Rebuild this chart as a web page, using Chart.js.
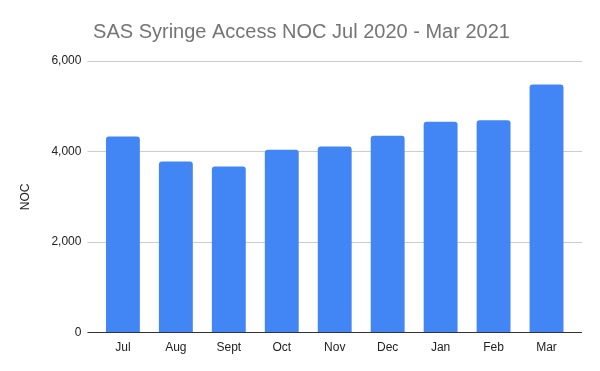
<!DOCTYPE html>
<html>
<head>
<meta charset="utf-8">
<script src="https://cdn.jsdelivr.net/npm/chart.js@4.4.0/dist/chart.umd.min.js"></script>
<style>
  html, body { margin: 0; padding: 0; background: #ffffff; }
  #chart { display: block; }
</style>
</head>
<body>
<canvas id="chart" width="600" height="371"></canvas>
<script>
// months shown on the x axis
const months = ["Jul", "Aug", "Sept", "Oct", "Nov", "Dec", "Jan", "Feb", "Mar"];
// NOC per month
const nocValues = [4330, 3780, 3670, 4040, 4110, 4350, 4660, 4690, 5480];
// y axis ticks
const yTicks = [0, 2000, 4000, 6000];

const ctx = document.getElementById("chart");
const fontFamily = "'Liberation Sans', Arial, sans-serif";

//grid color: dark baseline, light gray otherwise
const gridColor = (c) => (c.tick && c.tick.value === 0 ? "#333333" : "#cccccc");

let myChart = new Chart(ctx, {
  type: "bar",
  data: {
    labels: months,
    datasets: [
      {
        label: "NOC",
        data: nocValues,
        backgroundColor: "#4285f4",
        borderRadius: { topLeft: 3, topRight: 3 },
        borderSkipped: "bottom",
        barPercentage: 0.64,
        categoryPercentage: 1.0,
      },
    ],
  },
  options: {
    responsive: false,
    animation: false,
    layout: { padding: { left: 3, right: 0, top: 0, bottom: 16 } },
    plugins: {
      legend: { display: false },
      tooltip: { enabled: false },
      title: {
        display: true,
        text: "SAS Syringe Access NOC Jul 2020 - Mar 2021",
        color: "#757575",
        font: { family: fontFamily, size: 20, weight: "normal" },
        padding: { top: 20, bottom: 17 },
      },
    },
    scales: {
      x: {
        grid: { display: false },
        border: { display: true, color: "#333333", width: 1 },
        ticks: {
          color: "#222222",
          font: { family: fontFamily, size: 12 },
          padding: 0,
        },
      },
      y: {
        min: 0,
        max: 6000,
        afterBuildTicks: (scale) => {
          scale.ticks = yTicks.map((v) => ({ value: v }));
        },
        grid: {
          color: gridColor,
          drawTicks: true,
          tickLength: 9,
        },
        border: { display: false },
        ticks: {
          color: "#222222",
          font: { family: fontFamily, size: 12 },
          padding: 6,
          callback: (v) => v.toLocaleString("en-US"),
        },
        title: {
          display: true,
          text: "NOC",
          color: "#222222",
          font: { family: fontFamily, size: 12 },
          padding: { top: 15, bottom: 13 },
        },
      },
      //invisible right axis, only to stretch the gridlines past the last bar
      y2: {
        position: "right",
        min: 0,
        max: 6000,
        afterBuildTicks: (scale) => {
          scale.ticks = yTicks.map((v) => ({ value: v }));
        },
        afterFit: (scale) => {
          scale.width = 27;
        },
        grid: {
          drawOnChartArea: false,
          drawTicks: true,
          tickLength: 9,
          color: gridColor,
        },
        border: { display: false },
        ticks: { display: false },
      },
    },
  },
});
</script>
</body>
</html>
